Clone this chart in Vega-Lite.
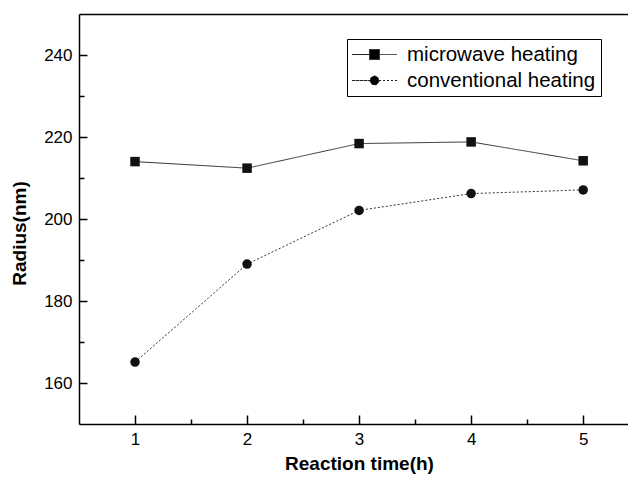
{
  "$schema": "https://vega.github.io/schema/vega-lite/v6.json",
  "width": 549,
  "height": 410,
  "autosize": {"type": "none"},
  "padding": {"left": 79, "top": 14, "right": 0, "bottom": 56},
  "background": "white",
  "config": {
    "view": {"stroke": null},
    "font": "Liberation Sans",
    "axis": {
      "domainColor": "black",
      "domainWidth": 1.5,
      "tickColor": "black",
      "tickWidth": 1.5,
      "grid": false,
      "labelFont": "Liberation Sans",
      "labelFontSize": 17,
      "labelColor": "black",
      "titleFont": "Liberation Sans",
      "titleFontSize": 19,
      "titleFontWeight": "bold",
      "titleColor": "black"
    },
    "legend": {
      "orient": "none",
      "legendX": 268,
      "legendY": 25,
      "strokeColor": "black",
      "padding": 5,
      "symbolSize": 400,
      "symbolOffset": 12,
      "symbolStrokeWidth": 1,
      "labelFontSize": 20.5,
      "labelFont": "Liberation Sans",
      "labelColor": "black",
      "labelOffset": 22,
      "rowPadding": 5,
      "labelLimit": 400
    }
  },
  "data": {
    "values": [
      {"t": 1, "r": 214.0, "s": "microwave heating"},
      {"t": 2, "r": 212.4, "s": "microwave heating"},
      {"t": 3, "r": 218.4, "s": "microwave heating"},
      {"t": 4, "r": 218.8, "s": "microwave heating"},
      {"t": 5, "r": 214.2, "s": "microwave heating"},
      {"t": 1, "r": 165.1, "s": "conventional heating"},
      {"t": 2, "r": 189.0, "s": "conventional heating"},
      {"t": 3, "r": 202.1, "s": "conventional heating"},
      {"t": 4, "r": 206.2, "s": "conventional heating"},
      {"t": 5, "r": 207.1, "s": "conventional heating"}
    ]
  },
  "layer": [
    {
      "mark": {"type": "line", "strokeWidth": 1, "color": "#333333", "clip": true},
      "encoding": {
        "x": {
          "field": "t",
          "type": "quantitative",
          "scale": {"domain": [0.5, 5.4], "nice": false, "zero": false},
          "axis": {
            "values": [1, 1.5, 2, 2.5, 3, 3.5, 4, 4.5, 5],
            "format": ".0f",
            "title": "Reaction time(h)",
            "labelExpr": "datum.value % 1 === 0 ? datum.label : ''",
            "tickSize": {"condition": {"test": "datum.value % 1 === 0", "value": -9}, "value": -5},
            "labelPadding": 16,
            "labelFlush": false,
            "titleX": 280,
            "titleY": 39,
            "titleBaseline": "middle",
            "titleAlign": "center"
          }
        },
        "y": {
          "field": "r",
          "type": "quantitative",
          "scale": {"domain": [150, 250], "nice": false, "zero": false},
          "axis": {
            "values": [160, 170, 180, 190, 200, 210, 220, 230, 240],
            "title": "Radius(nm)",
            "labelExpr": "datum.value % 20 === 0 ? datum.label : ''",
            "tickSize": {"condition": {"test": "datum.value % 20 === 0", "value": -8}, "value": -5},
            "labelPadding": 15,
            "labelFlush": false,
            "titleX": -60,
            "titleY": 219,
            "titleAngle": -90,
            "titleBaseline": "middle",
            "titleAlign": "center"
          }
        },
        "strokeDash": {
          "field": "s",
          "type": "nominal",
          "scale": {"domain": ["microwave heating", "conventional heating"], "range": [[1, 0], [2, 2]]},
          "legend": {
            "title": null,
            "encoding": {
              "symbols": {
                "shape": {"condition": {"test": "datum.value === 'microwave heating'", "value": "M-2.25,0H-0.5M-0.5,-0.5H0.5V0.5H-0.5ZM0.5,0H2.25"}, "value": "M-2.25,0H-0.45A0.45,0.45 0 1,1 0.45,0A0.45,0.45 0 1,1 -0.45,0ZM0.45,0H2.25"},
                "fill": {"value": "black"},
                "stroke": {"value": "#222222"}
              }
            }
          }
        }
      }
    },
    {
      "transform": [{"filter": "datum.s === 'microwave heating'"}],
      "mark": {"type": "point", "shape": "square", "filled": true, "size": 90, "opacity": 1, "color": "#111111", "clip": true},
      "encoding": {
        "x": {
          "field": "t",
          "type": "quantitative",
          "axis": {"orient": "top", "title": null, "labels": false, "ticks": false, "domain": true}
        },
        "y": {"field": "r", "type": "quantitative"}
      }
    },
    {
      "transform": [{"filter": "datum.s === 'conventional heating'"}],
      "mark": {"type": "point", "shape": "circle", "filled": true, "size": 90, "opacity": 1, "color": "#111111", "clip": true},
      "encoding": {
        "x": {"field": "t", "type": "quantitative", "axis": null},
        "y": {"field": "r", "type": "quantitative"}
      }
    }
  ],
  "resolve": {"axis": {"x": "independent"}}
}
